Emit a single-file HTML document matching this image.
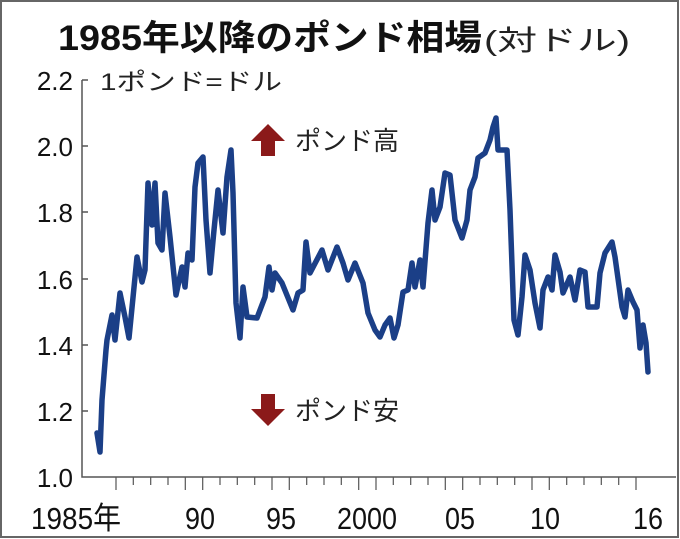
<!DOCTYPE html>
<html><head><meta charset="utf-8"><style>
html,body{margin:0;padding:0;background:#fff}
svg{display:block}
text{font-family:"Liberation Sans","Noto Sans CJK JP",sans-serif}
</style></head><body>
<svg width="680" height="539" viewBox="0 0 680 539" xmlns="http://www.w3.org/2000/svg">
<rect x="1" y="1" width="677" height="536" fill="#fff" stroke="#666" stroke-width="2"/>
<text x="58" y="50" font-size="35" font-weight="bold" fill="#111" textLength="424" lengthAdjust="spacingAndGlyphs">1985年以降のポンド相場</text>
<text x="484" y="50" font-size="28" fill="#222" textLength="146" lengthAdjust="spacingAndGlyphs">(対ドル)</text>
<g font-size="26" fill="#111" text-anchor="end">
<text x="73" y="90">2.2</text><text x="73" y="156">2.0</text><text x="73" y="222">1.8</text>
<text x="73" y="289">1.6</text><text x="73" y="355">1.4</text><text x="73" y="421">1.2</text><text x="73" y="487">1.0</text>
</g>
<text x="100" y="90" font-size="24" fill="#222" textLength="182" lengthAdjust="spacingAndGlyphs">1ポンド=ドル</text>
<g stroke="#555" stroke-width="1.5" fill="none">
<path d="M82,80 V477 H676"/>
<path d="M82,80 h6 M82,146 h6 M82,212 h6 M82,279 h6 M82,345 h6 M82,411 h6"/>
</g>
<g stroke="#555" stroke-width="1.2">
<path d="M116,477v13 M133.3,477v8 M150.7,477v8 M168,477v8 M185.3,477v13 M202.7,477v13 M220,477v8 M237.3,477v8 M254.7,477v8 M272,477v13 M289.3,477v13 M306.7,477v8 M324,477v8 M341.3,477v8 M358.7,477v13 M376,477v13 M393.3,477v8 M410.7,477v8 M428,477v8 M445.3,477v13 M462.7,477v13 M480,477v8 M497.3,477v8 M514.7,477v8 M532,477v13 M549.3,477v13 M566.7,477v8 M584,477v8 M601.3,477v8 M618.7,477v8 M636,477v13"/>
</g>
<g font-size="31" fill="#111" text-anchor="middle">
<text x="76" y="529" textLength="90" lengthAdjust="spacingAndGlyphs">1985年</text>
<text x="200" y="529" textLength="30" lengthAdjust="spacingAndGlyphs">90</text>
<text x="281" y="529" textLength="30" lengthAdjust="spacingAndGlyphs">95</text>
<text x="367" y="529" textLength="60" lengthAdjust="spacingAndGlyphs">2000</text>
<text x="460" y="529" textLength="30" lengthAdjust="spacingAndGlyphs">05</text>
<text x="545" y="529" textLength="30" lengthAdjust="spacingAndGlyphs">10</text>
<text x="648" y="529" textLength="30" lengthAdjust="spacingAndGlyphs">16</text>
</g>
<path d="M268,124 l-17,17 h10 v15 h14 v-15 h10 z" fill="#8b1a1a"/>
<text x="295" y="150" font-size="26" fill="#222">ポンド高</text>
<path d="M268,426 l-17,-17 h10 v-15 h14 v15 h10 z" fill="#8b1a1a"/>
<text x="295" y="420" font-size="26" fill="#222">ポンド安</text>
<polyline fill="none" stroke="#1b3f87" stroke-width="5.5" stroke-linejoin="round" stroke-linecap="round" points="
97,433 100,452 102,400 106,350 107,340 112,315 115,340 120,293 125,317 129,338 137,257 142,282 145,270 148,183 152,225 155,183 158,243 162,250 165,193 170,237 176,295 182,267 185,287 188,253 192,260 195,187 198,163 203,157 206,220 210,273 214,230 218,190 223,233 227,177 231,150 233,193 236,303 240,338 243,287 247,317 257,318 265,297 269,267 272,290 275,273 282,283 293,310 298,293 303,290 306,242 310,273 322,250 328,270 337,247 343,263 348,280 355,263 363,283 368,313 375,330 380,337 385,325 390,318 394,338 398,325 403,292 408,290 412,263 415,287 420,260 423,287 428,223 432,190 435,220 440,207 445,173 450,175 455,220 462,238 467,220 470,190 475,177 478,158 485,153 490,140 493,127 496,118 498,150 507,150 510,210 514,320 518,335 522,297 525,255 530,270 535,303 540,328 543,290 548,277 552,290 555,255 560,272 563,293 570,277 575,300 580,270 585,272 588,307 597,307 600,273 605,253 612,242 615,257 622,307 625,317 628,290 633,302 637,310 640,348 643,325 646,343 648,372
"/>
</svg>
</body></html>
